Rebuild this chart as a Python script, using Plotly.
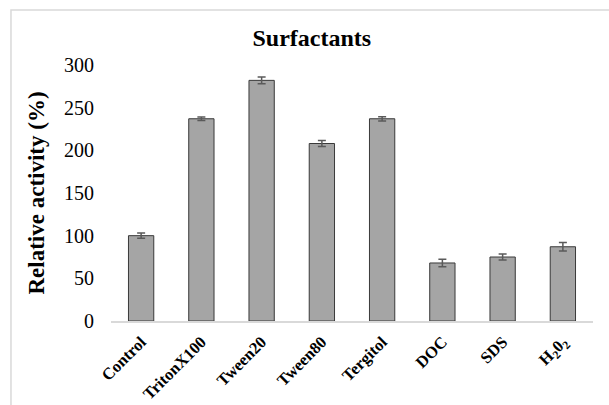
import plotly.graph_objects as go

categories = ["Control", "TritonX100", "Tween20", "Tween80", "Tergitol", "DOC", "SDS", "H<sub>2</sub>0<sub>2</sub>"]
activity = [100, 237, 282, 208, 237, 68, 75, 87]
errors = [3, 2, 4, 3.5, 2.5, 4.5, 3.5, 5]
y_ticks = [0, 50, 100, 150, 200, 250, 300]

FONT = "Liberation Serif, Times New Roman, serif"

fig = go.Figure()
fig.add_trace(go.Bar(
    x=categories,
    y=activity,
    marker=dict(color="#a5a5a5", line=dict(color="#3a3a3a", width=1)),
    error_y=dict(type="data", array=errors, visible=True, color="#5a5a5a", thickness=1.5, width=4),
    width=0.42,
))

fig.update_layout(
    width=609, height=405,
    margin=dict(l=111, r=16, t=65, b=84),
    paper_bgcolor="white", plot_bgcolor="white",
    showlegend=False,
    title=dict(text="<b>Surfactants</b>", x=0.512, xanchor="center", y=0.908, yanchor="middle",
               font=dict(family=FONT, size=24, color="black")),
    xaxis=dict(showline=True, linecolor="#d9d9d9", linewidth=1.5, showgrid=False, automargin=False,
               tickangle=-45, ticks="", tickfont=dict(family=FONT, size=16.5, color="black"),
               tickprefix="<b>", ticksuffix="</b>", ticklabelstandoff=3),
    yaxis=dict(range=[0, 300], tickvals=y_ticks, showgrid=False, zeroline=False, showline=False,
               automargin=False,
               ticks="", tickfont=dict(family=FONT, size=20, color="black"), ticklabelstandoff=16,
               title=dict(text="<b>Relative activity (%)</b>", font=dict(family=FONT, size=23, color="black"),
                          standoff=12)),
    shapes=[dict(type="rect", xref="paper", yref="paper", x0=-0.2075, x1=1.1, y0=-0.4, y1=1.215,
                 line=dict(color="#d9d9d9", width=1.5), fillcolor="rgba(0,0,0,0)", layer="below")],
)

fig.write_html("out.html", config={"displayModeBar": False},
               post_script="document.body.style.margin='0';document.body.style.padding='0';")
